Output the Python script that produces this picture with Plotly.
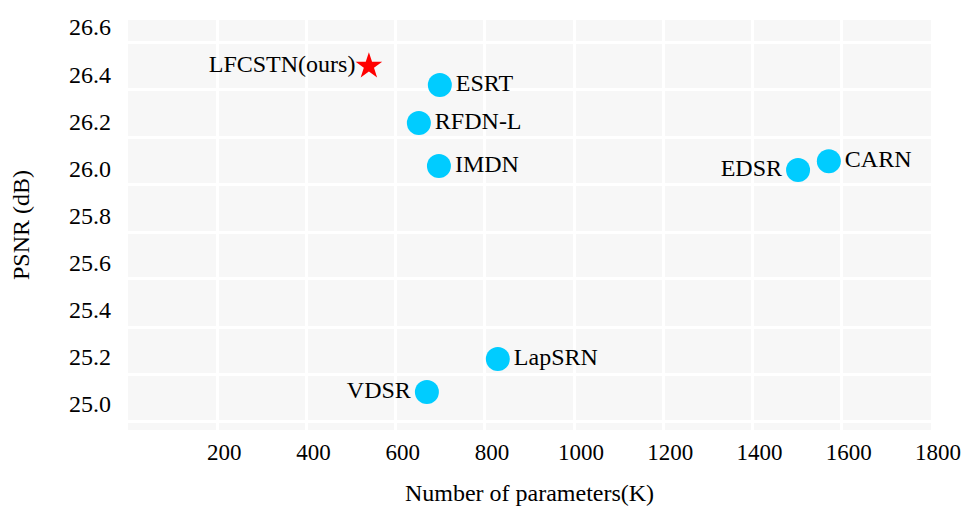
import plotly.graph_objects as go

# Data
methods = ["ESRT", "RFDN-L", "IMDN", "EDSR", "CARN", "LapSRN", "VDSR"]
params_k = [699, 652, 697, 1502, 1571, 829, 670]
psnr_db = [26.354, 26.193, 26.010, 25.993, 26.031, 25.191, 25.051]
label_side = ["middle right", "middle right", "middle right", "middle left",
              "middle right", "middle right", "middle left"]

ours_name = ["LFCSTN(ours)"]
ours_params_k = [540]
ours_psnr_db = [26.434]

x_ticks = [200, 400, 600, 800, 1000, 1200, 1400, 1600, 1800]
y_ticks = [25.0, 25.2, 25.4, 25.6, 25.8, 26.0, 26.2, 26.4, 26.6]

# horizontal grid lines sit slightly below the y tick labels in the reference
y_grid = [26.536, 26.337, 26.133, 25.934, 25.730, 25.531, 25.327, 25.127, 24.928]

FONT = "Liberation Serif, Times New Roman, serif"

fig = go.Figure()
fig.add_trace(go.Scatter(
    x=params_k, y=psnr_db, mode="markers+text", text=methods,
    textposition=label_side,
    marker=dict(color="#00CCFF", size=24, line=dict(width=0)),
    textfont=dict(family=FONT, size=24, color="black"),
    showlegend=False, cliponaxis=False,
))
fig.add_trace(go.Scatter(
    x=ours_params_k, y=ours_psnr_db, mode="markers+text", text=ours_name,
    textposition="middle left",
    marker=dict(color="red", size=20, symbol="star", line=dict(width=0)),
    textfont=dict(family=FONT, size=24, color="black"),
    showlegend=False, cliponaxis=False,
))

fig.update_layout(
    width=962, height=506,
    margin=dict(l=128, r=31, t=20, b=76),
    paper_bgcolor="white", plot_bgcolor="#F7F7F7",
    font=dict(family=FONT, size=24, color="black"),
)
fig.update_xaxes(
    range=[0, 1800], tickmode="array", tickvals=x_ticks,
    ticktext=[str(v) for v in x_ticks],
    showgrid=True, gridcolor="white", gridwidth=3,
    zeroline=False, showline=False, ticks="",
    ticklabelshift=7, ticklabelstandoff=6, automargin=False,
    ticklabeloverflow="allow",
    tickfont=dict(family=FONT, size=23, color="black"),
    title=dict(text="Number of parameters(K)", standoff=20,
               font=dict(family=FONT, size=24, color="black")),
)
fig.update_yaxes(
    range=[24.890, 26.630], tickmode="array", tickvals=y_ticks,
    ticktext=[f"{v:.1f}" for v in y_ticks],
    showgrid=False, zeroline=False, showline=False, ticks="",
    ticklabelstandoff=16, automargin=False,
    tickfont=dict(family=FONT, size=24, color="black"),
    minor=dict(tickmode="array", tickvals=y_grid, showgrid=True,
               gridcolor="white", gridwidth=3, ticks=""),
    title=dict(text="PSNR (dB)", standoff=32,
               font=dict(family=FONT, size=24, color="black")),
)

fig.write_html(
    "out.html",
    config={"displayModeBar": False},
    post_script="document.body.style.margin='0';document.body.style.overflow='hidden';",
)
